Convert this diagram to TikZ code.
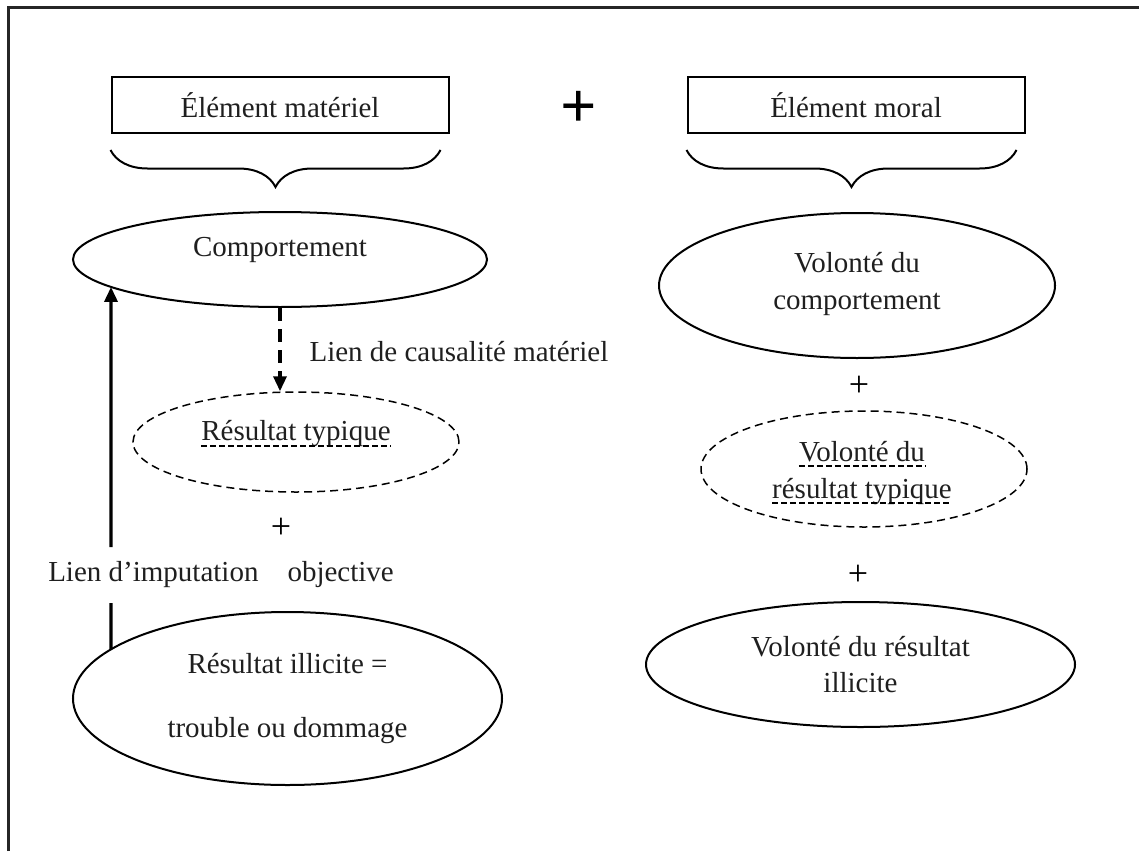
\documentclass[tikz,border=0pt]{standalone}
\usepackage{fontspec}
\setmainfont{Liberation Serif}
\usetikzlibrary{shapes.geometric,arrows.meta,decorations.pathreplacing,intersections}
\tikzset{
  txt/.style={font=\fontsize{29}{36}\selectfont, text=black!88},
  topbox/.style={draw, line width=2pt, minimum width=337pt, minimum height=56pt, inner sep=0pt, txt},
  oval/.style={draw, ellipse, line width=2pt, inner sep=0pt, align=center, txt},
  dashoval/.style={draw, ellipse, line width=1.5pt, dash pattern=on 8pt off 5pt, inner sep=0pt},
  plussign/.style={font=\fontsize{36}{36}\selectfont, inner sep=0pt},
  bigplus/.style={font=\bfseries\fontsize{64}{64}\selectfont, inner sep=0pt},
  bracestyle/.style={line width=2pt, decorate, decoration={brace, mirror, amplitude=37pt, aspect=0.5}},
  arrowline/.style={line width=3.4pt, -{Triangle[length=15pt,width=13pt]}},
  dasharrow/.style={line width=3.4pt, dash pattern=on 13pt off 8pt, -{Triangle[length=15pt,width=13pt]}},
  uline/.style={line width=1.1pt, dash pattern=on 6pt off 3pt},
}
\begin{document}
\begin{tikzpicture}[x=1pt,y=-1pt]
\useasboundingbox (0,0) rectangle (1139,851);
% frame
\draw[line width=3pt, black!85] (8,851) -- (8,8) -- (1139,8);

% top boxes
\node[topbox] (b1) at (280,105) {Élément matériel};
\node[topbox] (b2) at (856,105) {Élément moral};
\node[bigplus] (pbig) at (579,109) {+};

% braces
\draw[bracestyle] ([yshift=-16pt]b1.south west) -- ([yshift=-16pt,xshift=-9pt]b1.south east);
\draw[bracestyle] ([yshift=-16pt]b2.south west) -- ([yshift=-16pt,xshift=-9pt]b2.south east);

% left column
\node[oval, minimum width=414pt, minimum height=95pt, name path=compP] (comp) at (280,259.5) {};
\node[txt, inner sep=0pt] (compt) at (280,250) {Comportement};
\node[dashoval, minimum width=326pt, minimum height=100pt] (rt) at (296,442) {};
\node[txt, inner sep=0pt] (rtt) at (296,434) {Résultat typique};
\draw[uline] ([yshift=-5pt]rtt.base west) -- ([yshift=-5pt]rtt.base east);
\node[txt, anchor=west] (causal) at (306,352) {Lien de causalité matériel};
\node[plussign] (p1) at (281,528) {+};
\node[txt, inner sep=0pt] (lab) at (221,575) {Lien d’imputation\quad objective};
\node[oval, minimum width=429pt, minimum height=173pt, name path=riP] (ri) at (287.5,698.5) {Résultat illicite =\\[28pt]trouble ou dommage};

\draw[dasharrow] (comp.south) -- (comp.south |- rt.north);

\coordinate (vx) at (111,0);
\path[name path=vline] (vx) -- (111,851);
\path[name intersections={of=vline and compP, by={ctop,cbot}}];
\path[name intersections={of=vline and riP, by={rtop,rbot}}];
\draw[line width=3.4pt] (rtop) -- ([yshift=-28pt]vx |- lab.center);
\draw[arrowline] ([yshift=28pt]vx |- lab.center) -- (cbot);

% right column
\node[oval, minimum width=396pt, minimum height=145pt] (vc) at (857,285.5) {};
\node[txt, inner sep=0pt, anchor=base] (vc1) at (857,272) {Volonté du};
\node[txt, inner sep=0pt, anchor=base] (vc2) at (857,309) {comportement};
\node[plussign] (p2) at (859,386) {+};
\node[dashoval, minimum width=326pt, minimum height=116pt] (vrt) at (864,469) {};
\node[txt, inner sep=0pt, anchor=base] (vrt1) at (862,461) {Volonté du};
\node[txt, inner sep=0pt, anchor=base] (vrt2) at (862,498) {résultat typique};
\draw[uline] ([yshift=-5pt]vrt1.base west) -- ([yshift=-5pt]vrt1.base east);
\draw[uline] ([yshift=-5pt]vrt2.base west) -- ([yshift=-5pt]vrt2.base east);
\node[plussign] (p3) at (858,575) {+};
\node[oval, minimum width=429pt, minimum height=125pt] (vri) at (860.5,664.5) {Volonté du résultat\\illicite};
\end{tikzpicture}
\end{document}
